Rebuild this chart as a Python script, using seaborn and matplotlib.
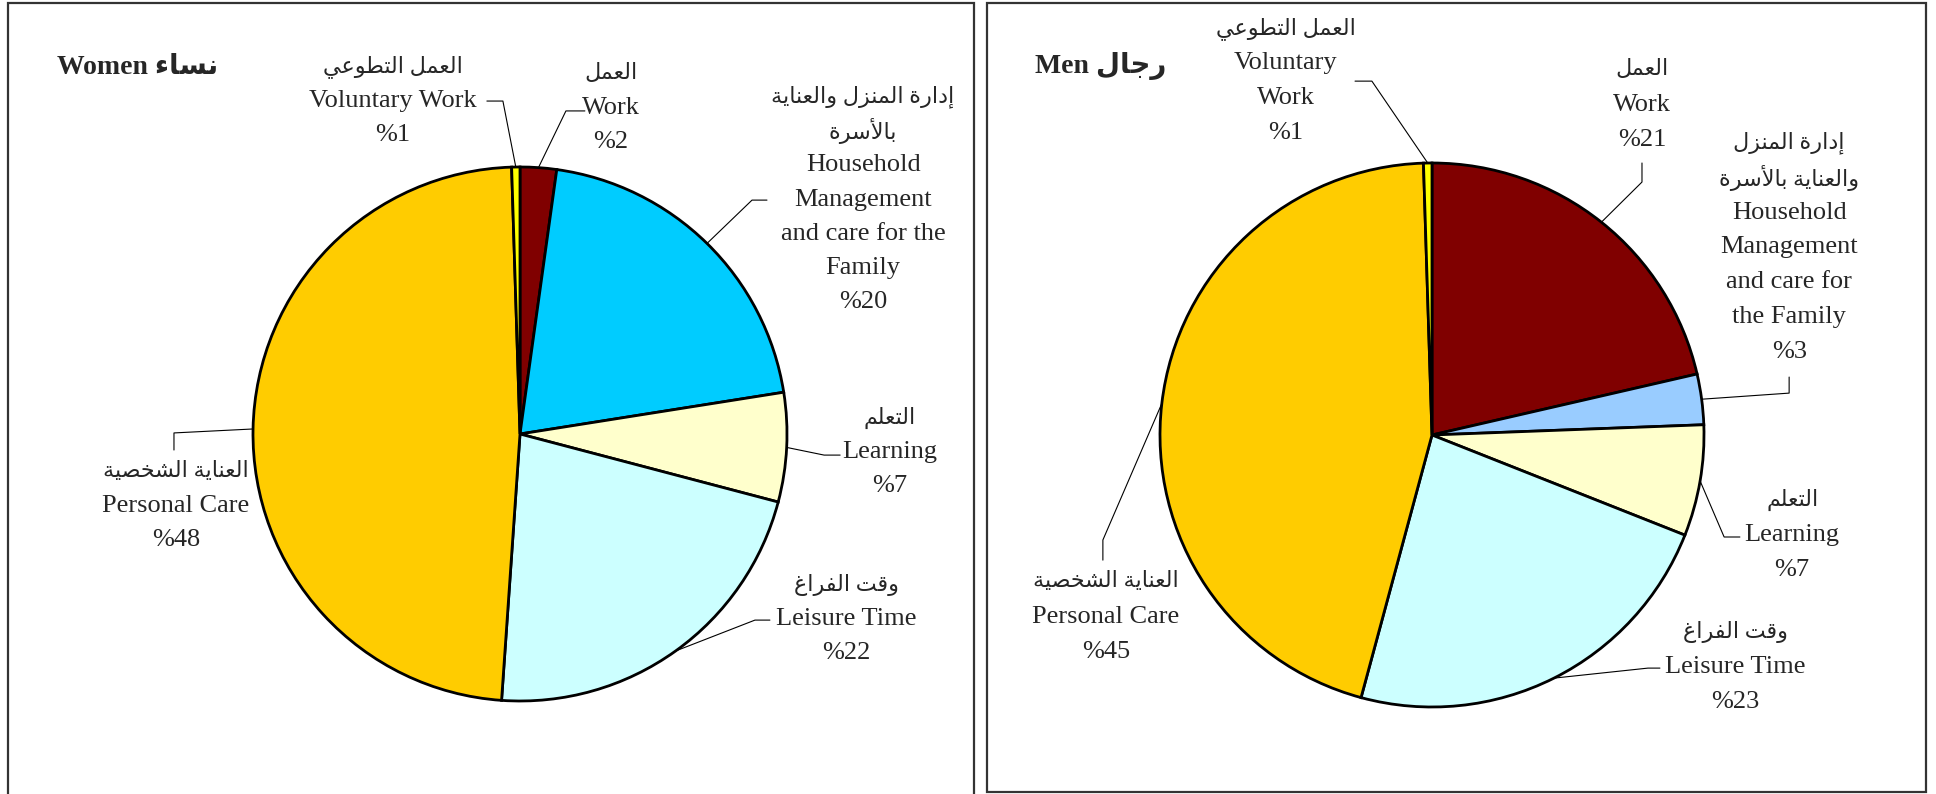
import numpy as np
import matplotlib
matplotlib.use("Agg")
import matplotlib.pyplot as plt
from matplotlib.patches import Rectangle
import seaborn as sns

# data (shares; labels show them rounded)
categories = ["Work", "Household", "Learning", "Leisure Time", "Personal Care", "Voluntary Work"]
women_pct = [2.2, 20.3, 6.6, 22.0, 48.4, 0.5]
men_pct = [21.4, 3.0, 6.6, 23.2, 45.3, 0.5]

women_colors = ["#800000", "#00CCFF", "#FFFFCC", "#CCFFFF", "#FFCC00", "#FFFF00"]
men_colors = ["#800000", "#99CCFF", "#FFFFCC", "#CCFFFF", "#FFCC00", "#FFFF00"]

# label lines: arabic lines first, then english lines
women_ar = [["العمل"], ["إدارة المنزل والعناية", "بالأسرة"], ["التعلم"],
            ["وقت الفراغ"], ["العناية الشخصية"], ["العمل التطوعي"]]
women_en = [["Work"], ["Household", "Management", "and care for the", "Family"], ["Learning"],
            ["Leisure Time"], ["Personal Care"], ["Voluntary Work"]]
men_ar = [["العمل"], ["إدارة المنزل", "والعناية بالأسرة"], ["التعلم"],
          ["وقت الفراغ"], ["العناية الشخصية"], ["العمل التطوعي"]]
men_en = [["Work"], ["Household", "Management", "and care for", "the Family"], ["Learning"],
          ["Leisure Time"], ["Personal Care"], ["Voluntary", "Work"]]

# minimal arabic shaping (presentation forms), matplotlib has no shaping engine
FORMS = {
    'ء': (0xFE80, None, None, None), 'أ': (0xFE83, 0xFE84, None, None),
    'إ': (0xFE87, 0xFE88, None, None), 'ا': (0xFE8D, 0xFE8E, None, None),
    'ب': (0xFE8F, 0xFE90, 0xFE91, 0xFE92), 'ة': (0xFE93, 0xFE94, None, None),
    'ت': (0xFE95, 0xFE96, 0xFE97, 0xFE98), 'ج': (0xFE9D, 0xFE9E, 0xFE9F, 0xFEA0),
    'خ': (0xFEA5, 0xFEA6, 0xFEA7, 0xFEA8), 'د': (0xFEA9, 0xFEAA, None, None),
    'ر': (0xFEAD, 0xFEAE, None, None), 'ز': (0xFEAF, 0xFEB0, None, None),
    'س': (0xFEB1, 0xFEB2, 0xFEB3, 0xFEB4), 'ش': (0xFEB5, 0xFEB6, 0xFEB7, 0xFEB8),
    'ص': (0xFEB9, 0xFEBA, 0xFEBB, 0xFEBC), 'ط': (0xFEC1, 0xFEC2, 0xFEC3, 0xFEC4),
    'ع': (0xFEC9, 0xFECA, 0xFECB, 0xFECC), 'غ': (0xFECD, 0xFECE, 0xFECF, 0xFED0),
    'ف': (0xFED1, 0xFED2, 0xFED3, 0xFED4), 'ق': (0xFED5, 0xFED6, 0xFED7, 0xFED8),
    'ل': (0xFEDD, 0xFEDE, 0xFEDF, 0xFEE0), 'م': (0xFEE1, 0xFEE2, 0xFEE3, 0xFEE4),
    'ن': (0xFEE5, 0xFEE6, 0xFEE7, 0xFEE8), 'و': (0xFEED, 0xFEEE, None, None),
    'ي': (0xFEF1, 0xFEF2, 0xFEF3, 0xFEF4),
}
LAM_ALEF = {'ا': (0xFEFB, 0xFEFC), 'أ': (0xFEF7, 0xFEF8), 'إ': (0xFEF9, 0xFEFA)}


def shape(text):
    toks = []
    i = 0
    while i < len(text):
        if text[i] == 'ل' and i + 1 < len(text) and text[i + 1] in LAM_ALEF:
            toks.append(('LA', text[i + 1]))
            i += 2
        else:
            toks.append((text[i], None))
            i += 1

    def join_next(t):
        if t[0] == 'LA':
            return False
        f = FORMS.get(t[0])
        return f is not None and f[2] is not None

    def join_prev(t):
        if t[0] == 'LA':
            return True
        f = FORMS.get(t[0])
        return f is not None and f[1] is not None

    out = []
    for k, t in enumerate(toks):
        p = k > 0 and join_next(toks[k - 1]) and join_prev(t)
        n = k + 1 < len(toks) and join_next(t) and join_prev(toks[k + 1])
        if t[0] == 'LA':
            iso, fin = LAM_ALEF[t[1]]
            out.append(chr(fin if p else iso))
            continue
        f = FORMS.get(t[0])
        if f is None:
            out.append(t[0])
            continue
        cp = f[3] if (p and n) else f[1] if p else f[2] if n else f[0]
        out.append(chr(cp))
    return ''.join(reversed(out))


sns.set_theme(style="white")
plt.rcParams['font.family'] = ['Liberation Serif', 'DejaVu Sans']

W, H = 1936, 794
fig = plt.figure(figsize=(W / 100, H / 100), dpi=100)
fig.patch.set_facecolor("white")

# layout in pixels: axes span, pie centre and radius
panels = [
    dict(title="Women", title_ar="نساء", vals=women_pct, colors=women_colors, ar=women_ar, en=women_en,
         px=(0, 980), c=(520, 434), r=267, title_xy=(-1.734, 1.371),
         text_xy=[(0.341, 1.348), (1.285, 1.262), (1.386, 0.060), (1.221, -0.566), (-1.288, -0.142), (-0.476, 1.375)],
         lead=[((0.172, 1.210), (0.243, 1.210)), ((0.869, 0.876), (0.925, 0.876)),
               ((1.139, -0.079), (1.199, -0.079)), ((0.880, -0.697), (0.936, -0.697)),
               ((-1.296, 0.004), (-1.296, -0.060)), ((-0.064, 1.247), (-0.124, 1.247))]),
    dict(title="Men", title_ar="رجال", vals=men_pct, colors=men_colors, ar=men_ar, en=men_en,
         px=(980, 1936), c=(1432, 435), r=272, title_xy=(-1.460, 1.357),
         text_xy=[(0.772, 1.342), (1.313, 1.074), (1.324, -0.239), (1.114, -0.724), (-1.199, -0.540), (-0.537, 1.496)],
         lead=[((0.772, 0.930), (0.772, 1.000)), ((1.313, 0.154), (1.313, 0.213)),
               ((1.074, -0.375), (1.132, -0.375)), ((0.794, -0.857), (0.838, -0.857)),
               ((-1.210, -0.386), (-1.210, -0.460)), ((-0.221, 1.301), (-0.283, 1.301))]),
]

step = 0.128
for pn in panels:
    x0, x1 = pn["px"]
    cx, cy = pn["c"]
    r = pn["r"]
    ax = fig.add_axes([x0 / W, 0, (x1 - x0) / W, 1])
    wedges, _ = ax.pie(pn["vals"], colors=pn["colors"], startangle=90, counterclock=False,
                       radius=1, wedgeprops=dict(edgecolor="black", linewidth=2.0))
    ax.set_aspect("auto")
    ax.set_xlim((x0 - cx) / r, (x1 - cx) / r)
    ax.set_ylim((cy - H) / r, cy / r)
    ax.axis("off")

    tx, ty = pn["title_xy"]
    ax.text(tx, ty, pn["title"] + " " + shape(pn["title_ar"]), fontsize=20, fontweight="bold",
            ha="left", va="center")

    for i, w in enumerate(wedges):
        mid = np.deg2rad((w.theta1 + w.theta2) / 2)
        ex, ey = np.cos(mid), np.sin(mid)
        (ax1, ay1), (ax2, ay2) = pn["lead"][i]
        ax.plot([ex, ax1, ax2], [ey, ay1, ay2], color="black", lw=0.8, clip_on=False)
        pct = "%" + str(int(pn["vals"][i] + 0.5))
        lines = [shape(s) for s in pn["ar"][i]] + pn["en"][i] + [pct]
        lx, ly = pn["text_xy"][i]
        for j, s in enumerate(lines):
            fs = 16 if j < len(pn["ar"][i]) else 19
            ax.text(lx, ly - j * step, s, fontsize=fs, ha="center", va="center")

# panel frames
fig.patches.append(Rectangle((8 / W, -0.05), (974 - 8) / W, 1.05 - 3 / H, transform=fig.transFigure,
                             fill=False, edgecolor="#333333", lw=1.6))
fig.patches.append(Rectangle((987 / W, 2 / H), (1926 - 987) / W, 1 - 5 / H, transform=fig.transFigure,
                             fill=False, edgecolor="#333333", lw=1.6))

fig.savefig("out.png", dpi=100, facecolor="white")
